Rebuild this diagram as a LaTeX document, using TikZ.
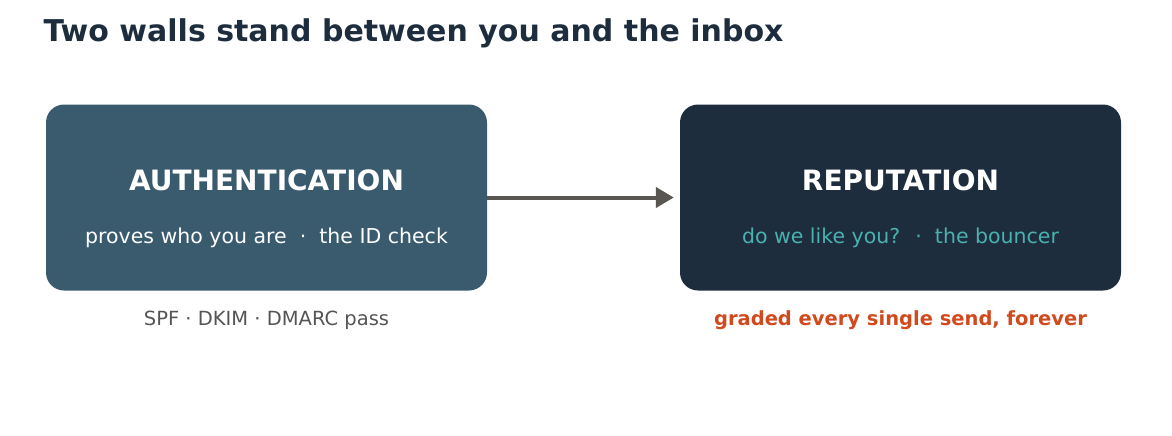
\documentclass[tikz,border=0pt]{standalone}
\usepackage{fontspec}
\setmainfont{DejaVu Sans}
\usetikzlibrary{arrows.meta,positioning}
\definecolor{slate}{HTML}{3A5A6E}
\definecolor{navy}{HTML}{1E2D3D}
\definecolor{teal}{HTML}{4AB0B0}
\definecolor{rust}{HTML}{D04A1E}
\definecolor{arrowgray}{HTML}{595550}
\definecolor{textgray}{HTML}{555555}
\tikzset{
  wall/.style={rounded corners=18pt, minimum width=441pt, minimum height=186pt, inner sep=0pt},
  head/.style={font=\fontsize{28}{32}\selectfont\bfseries, text=white},
  sub/.style={font=\fontsize{20.5}{24}\selectfont},
  note/.style={font=\fontsize{19.5}{24}\selectfont}
}
\begin{document}
\begin{tikzpicture}[x=1pt,y=-1pt]
        \useasboundingbox (0,0) rectangle (1172,436);
        \node[anchor=base west, font=\fontsize{30}{36}\selectfont\bfseries, text=navy] (title) at (40,42) {Two walls stand between you and the inbox};

        \node[wall, fill=slate] (auth) at (266.5,197.5) {};
        \node[wall, fill=navy] (rep) at (900.5,197.5) {};

        \node[head] (authhead) at (266.5,180) {AUTHENTICATION};
        \node[sub, text=white] (authsub) at (266.5,238) {proves who you are \ \textperiodcentered\ \ the ID check};
        \node[head] (rephead) at (900.5,180) {REPUTATION};
        \node[sub, text=teal] (repsub) at (900.5,238) {do we like you? \ \textperiodcentered\ \ the bouncer};

        \node[note, text=textgray] (authnote) at (266.5,320) {SPF · DKIM · DMARC pass};
        \node[note, text=rust, font=\fontsize{19.5}{24}\selectfont\bfseries] (repnote) at (900.5,320) {graded every single send, forever};

        \draw[arrowgray, line width=4pt, -{Triangle[length=18pt,width=20pt]}] (auth.east) -- ([xshift=-6pt]rep.west);
\end{tikzpicture}
\end{document}
